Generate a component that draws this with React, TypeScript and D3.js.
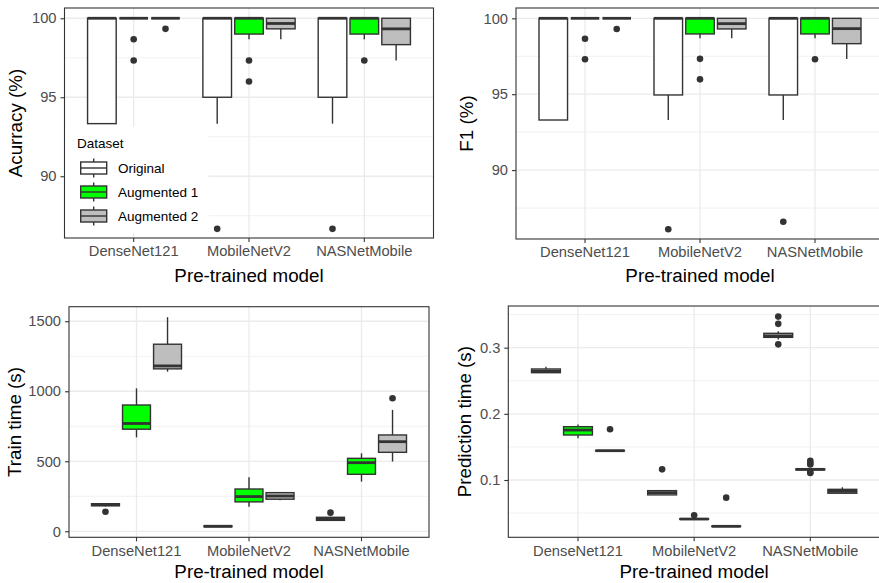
import { useRef, useEffect } from 'react'
import * as d3 from 'd3'

const models = ["DenseNet121", "MobileNetV2", "NASNetMobile"];
const datasets = ["Original", "Augmented 1", "Augmented 2"];
const fills = ["#FFFFFF", "#00FF00", "#BEBEBE"];

// [model][dataset] -> [lower whisker, q1, median, q3, upper whisker]
const accuracyBoxes = [
  [[93.33, 93.33, 100, 100, 100], [100, 100, 100, 100, 100], [100, 100, 100, 100, 100]],
  [[93.33, 95, 100, 100, 100], [98.67, 99, 100, 100, 100], [98.67, 99.33, 99.67, 100, 100]],
  [[93.33, 95, 100, 100, 100], [98.67, 99, 100, 100, 100], [97.33, 98.33, 99.33, 100, 100]]
];
const accuracyOutliers = [
  [[], [98.67, 97.33], [99.33]],
  [[86.67], [97.33, 96], []],
  [[86.67], [97.33], []]
];

const f1Boxes = [
  [[93.3, 93.3, 100, 100, 100], [100, 100, 100, 100, 100], [100, 100, 100, 100, 100]],
  [[93.3, 94.95, 100, 100, 100], [98.68, 98.97, 100, 100, 100], [98.68, 99.3, 99.65, 100, 100]],
  [[93.3, 94.95, 100, 100, 100], [98.68, 98.97, 100, 100, 100], [97.32, 98.33, 99.32, 100, 100]]
];
const f1Outliers = [
  [[], [98.65, 97.3], [99.3]],
  [[86.1], [97.33, 95.98], []],
  [[86.6], [97.3], []]
];

const trainBoxes = [
  [[178, 182, 190, 197, 200], [671, 729, 770, 902, 1021], [1140, 1160, 1181, 1336, 1529]],
  [[30, 32, 36, 40, 45], [176, 210, 248, 302, 386], [222, 229, 252, 276, 280]],
  [[75, 78, 86, 100, 103], [355, 407, 490, 521, 557], [498, 564, 640, 688, 867]]
];
const trainOutliers = [
  [[140], [], []],
  [[], [], []],
  [[133], [], [950]]
];

const predBoxes = [
  [[0.262, 0.2622, 0.2647, 0.2678, 0.271], [0.163, 0.168, 0.1755, 0.1806, 0.184], [0.1438, 0.144, 0.1443, 0.1446, 0.1448]],
  [[0.0773, 0.0775, 0.0809, 0.0839, 0.0845], [0.0405, 0.0408, 0.041, 0.0413, 0.0418], [0.0295, 0.0298, 0.03, 0.0302, 0.0305]],
  [[0.3125, 0.3156, 0.318, 0.3217, 0.325], [0.1148, 0.1153, 0.1161, 0.1168, 0.1175], [0.0798, 0.08, 0.0829, 0.0859, 0.089]]
];
const predOutliers = [
  [[], [], [0.1766]],
  [[0.1161], [0.0466], [0.0733]],
  [[0.347, 0.336, 0.305], [0.129, 0.126, 0.1235, 0.112, 0.1105], []]
];

const accuracyTicks = [90, 95, 100];
const accuracyMinor = [87.5, 92.5, 97.5];
const trainTicks = [0, 500, 1000, 1500];
const trainMinor = [250, 750, 1250];
const predTicks = [0.1, 0.2, 0.3];
const predMinor = [0.05, 0.15, 0.25, 0.35];

const FONT = "'Liberation Sans', Arial, Helvetica, sans-serif";

function drawPanel(svg, p) {
  const g = svg.append("g");
  const x = d3.scaleBand().domain(models).range([p.left, p.right]).paddingInner(0).paddingOuter(0.1);
  const step = x.step();
  const xInner = d3.scaleBand().domain(datasets).range([-0.4 * step, 0.4 * step]).paddingInner(0.1);
  const y = d3.scaleLinear().domain(p.domain).range([p.bottom, p.top]);

  // grid
  g.selectAll(".minor").data(p.minor).enter().append("line")
    .attr("x1", p.left).attr("x2", p.right)
    .attr("y1", d => y(d)).attr("y2", d => y(d))
    .attr("stroke", "#EBEBEB").attr("stroke-width", 0.7);
  g.selectAll(".major").data(p.ticks).enter().append("line")
    .attr("x1", p.left).attr("x2", p.right)
    .attr("y1", d => y(d)).attr("y2", d => y(d))
    .attr("stroke", "#EBEBEB").attr("stroke-width", 1.3);
  g.selectAll(".vmajor").data(models).enter().append("line")
    .attr("x1", d => x(d) + x.bandwidth() / 2).attr("x2", d => x(d) + x.bandwidth() / 2)
    .attr("y1", p.top).attr("y2", p.bottom)
    .attr("stroke", "#EBEBEB").attr("stroke-width", 1.3);

  // boxes
  models.forEach((m, i) => {
    datasets.forEach((ds, j) => {
      const [lo, q1, med, q3, hi] = p.boxes[i][j];
      const cx = x(m) + x.bandwidth() / 2 + xInner(ds) + xInner.bandwidth() / 2;
      const bw = xInner.bandwidth();
      g.append("line").attr("x1", cx).attr("x2", cx).attr("y1", y(q3)).attr("y2", y(hi))
        .attr("stroke", "#333333").attr("stroke-width", 1.4);
      g.append("line").attr("x1", cx).attr("x2", cx).attr("y1", y(q1)).attr("y2", y(lo))
        .attr("stroke", "#333333").attr("stroke-width", 1.4);
      g.append("rect").attr("x", cx - bw / 2).attr("width", bw)
        .attr("y", y(q3)).attr("height", Math.max(0, y(q1) - y(q3)))
        .attr("fill", fills[j]).attr("stroke", "#333333").attr("stroke-width", 1.4);
      g.append("line").attr("x1", cx - bw / 2).attr("x2", cx + bw / 2).attr("y1", y(med)).attr("y2", y(med))
        .attr("stroke", "#333333").attr("stroke-width", 2.8);
      g.selectAll(null).data(p.outliers[i][j]).enter().append("circle")
        .attr("cx", cx).attr("cy", d => y(d)).attr("r", 3.3).attr("fill", "#333333");
    });
  });

  // border
  g.append("rect").attr("x", p.left).attr("y", p.top)
    .attr("width", p.right - p.left).attr("height", p.bottom - p.top)
    .attr("fill", "none").attr("stroke", "#333333").attr("stroke-width", 1.1);

  // axes
  const yAxis = g.append("g").attr("transform", `translate(${p.left},0)`)
    .call(d3.axisLeft(y).tickValues(p.ticks).tickSize(4).tickPadding(4).tickFormat(p.format));
  const xAxis = g.append("g").attr("transform", `translate(0,${p.bottom})`)
    .call(d3.axisBottom(x).tickSize(4).tickPadding(4));
  [yAxis, xAxis].forEach(a => {
    a.select(".domain").remove();
    a.selectAll(".tick line").attr("stroke", "#333333").attr("stroke-width", 1.1);
    a.selectAll(".tick text").attr("fill", "#4D4D4D").style("font-size", "14.7px").style("font-family", FONT);
  });

  g.append("text")
    .attr("x", (p.left + p.right) / 2).attr("y", p.bottom + p.xTitleGap)
    .attr("text-anchor", "middle").style("font-size", "18.8px").style("font-family", FONT)
    .text("Pre-trained model");
  g.append("text")
    .attr("transform", `translate(${p.titleX},${(p.top + p.bottom) / 2}) rotate(-90)`)
    .attr("text-anchor", "middle").style("font-size", "18.8px").style("font-family", FONT)
    .text(p.title);

  if (p.legend) {
    const lg = g.append("g");
    lg.append("rect").attr("x", p.left + 1).attr("y", 127).attr("width", 143).attr("height", 106).attr("fill", "white");
    lg.append("text").attr("x", 77).attr("y", 148).style("font-size", "13.5px").style("font-family", FONT).text("Dataset");
    datasets.forEach((ds, j) => {
      const cy = 168 + j * 24;
      lg.append("line").attr("x1", 93.7).attr("x2", 93.7).attr("y1", cy - 9.5).attr("y2", cy + 9.5)
        .attr("stroke", "#333333").attr("stroke-width", 1.4);
      lg.append("rect").attr("x", 80.7).attr("y", cy - 6).attr("width", 26).attr("height", 12)
        .attr("fill", fills[j]).attr("stroke", "#333333").attr("stroke-width", 1.4);
      lg.append("line").attr("x1", 80.7).attr("x2", 106.7).attr("y1", cy).attr("y2", cy)
        .attr("stroke", "#333333").attr("stroke-width", 1.4);
      lg.append("text").attr("x", 118).attr("y", cy + 5).style("font-size", "13.5px").style("font-family", FONT).text(ds);
    });
  }
}

export default function App() {
  const chartRef = useRef(null);

  useEffect(() => {
    const container = chartRef.current;
    if (container === null) return;
    container.innerHTML = '';
    const svg = d3.select(container).append("svg")
      .attr("width", 879).attr("height", 583)
      .style("display", "block").style("background", "white");

    drawPanel(svg, {
      left: 64.5, right: 433.5, top: 8, bottom: 238, domain: [86.09, 100.65],
      ticks: accuracyTicks, minor: accuracyMinor, format: d3.format("d"), xTitleGap: 44,
      boxes: accuracyBoxes, outliers: accuracyOutliers, title: "Acurracy (%)", titleX: 21.5, legend: true
    });
    drawPanel(svg, {
      left: 516, right: 884, top: 8, bottom: 239, domain: [85.46, 100.68],
      ticks: accuracyTicks, minor: accuracyMinor, format: d3.format("d"), xTitleGap: 43,
      boxes: f1Boxes, outliers: f1Outliers, title: "F1 (%)", titleX: 473, legend: false
    });
    drawPanel(svg, {
      left: 69, right: 429, top: 306.7, bottom: 537.3, domain: [-42.9, 1604],
      ticks: trainTicks, minor: trainMinor, format: d3.format("d"), xTitleGap: 41,
      boxes: trainBoxes, outliers: trainOutliers, title: "Train time (s)", titleX: 20.5, legend: false
    });
    drawPanel(svg, {
      left: 508.3, right: 880, top: 306, bottom: 537.3, domain: [0.0134, 0.363],
      ticks: predTicks, minor: predMinor, format: d3.format(".1f"), xTitleGap: 41,
      boxes: predBoxes, outliers: predOutliers, title: "Prediction time (s)", titleX: 471, legend: false
    });
  });

  return (
    <div ref={chartRef} style={{ position: 'absolute', left: 0, top: 0, width: 879, height: 583, overflow: 'hidden' }}>
    </div>
  )
}
